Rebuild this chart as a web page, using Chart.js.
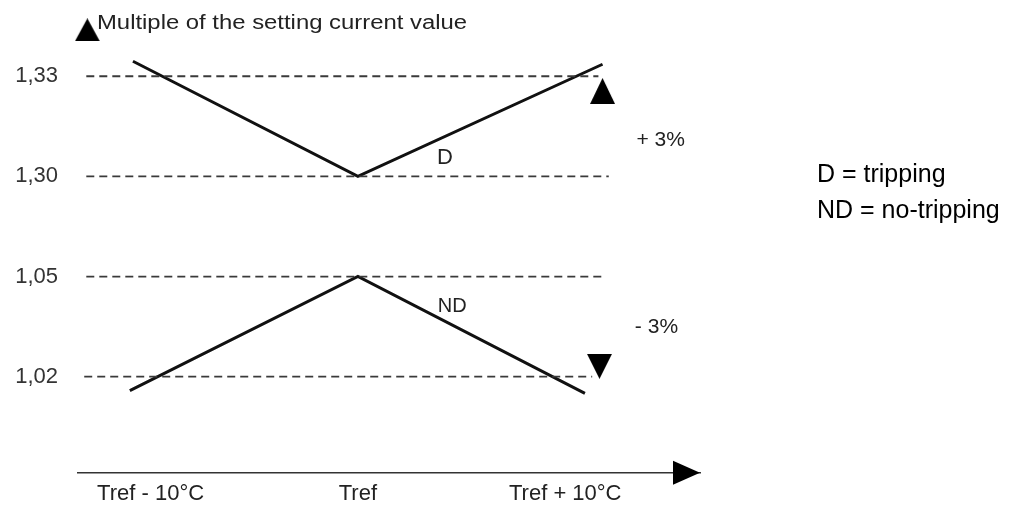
<!DOCTYPE html>
<html>
<head>
<meta charset="utf-8">
<script src="https://cdn.jsdelivr.net/npm/chart.js@4"></script>
<style>
  html, body { margin: 0; padding: 0; background: #fff; }
</style>
</head>
<body>
<canvas id="chart" width="1014" height="506"></canvas>
<script>
// x in degrees relative to Tref, y as multiple of the setting current
var xTicks = [-10, 0, 10];
var xLabels = ["Tref - 10°C", "Tref", "Tref + 10°C"];
var yLevels = [1.02, 1.05, 1.30, 1.33];
var yLabels = ["1,02", "1,05", "1,30", "1,33"];
var levelStart = [-13.2, -13.1, -13.1, -13.1];
var levelEnd = [11.3, 11.9, 12.1, 11.6];

var tripX = [-10.85, 0, 11.8];
var tripY = [1.3345, 1.300, 1.3336];
var noTripX = [-11.0, 0, 10.95];
var noTripY = [1.0158, 1.050, 1.0150];

// the two tolerance arrows and the arrow head of the y axis
var markX = [11.8, 11.65, -13.05];
var markY = [1.3256, 1.0231, 1.3439];

Chart.defaults.font.family = 'Arial, "Liberation Sans", sans-serif';

// broken y axis: every step between two levels gets the same height
function pos(v) {
  var i = 0;
  while (i < yLevels.length - 2 && v > yLevels[i + 1]) i++;
  return i + (v - yLevels[i]) / (yLevels[i + 1] - yLevels[i]);
}

function points(xs, ys) {
  var out = [];
  for (var i = 0; i < xs.length; i++) out.push({ x: xs[i], y: pos(ys[i]) });
  return out;
}

function triangle(w, h, up) {
  var c = document.createElement("canvas");
  c.width = w;
  c.height = h;
  var g = c.getContext("2d");
  g.fillStyle = "#000";
  g.beginPath();
  if (up) {
    g.moveTo(w / 2, 0); g.lineTo(w, h); g.lineTo(0, h);
  } else {
    g.moveTo(0, 0); g.lineTo(w, 0); g.lineTo(w / 2, h);
  }
  g.closePath();
  g.fill();
  return c;
}

var datasets = [];
for (var i = 0; i < yLevels.length; i++) {
  datasets.push({
    data: points([levelStart[i], levelEnd[i]], [yLevels[i], yLevels[i]]),
    showLine: true,
    borderColor: "#3a3a3a",
    borderWidth: 1.8,
    borderDash: [8, 5],
    pointRadius: 0,
  });
}
datasets.push({
  label: "D",
  data: points(tripX, tripY),
  showLine: true,
  borderColor: "#111",
  borderWidth: 3,
  pointRadius: 0,
});
datasets.push({
  label: "ND",
  data: points(noTripX, noTripY),
  showLine: true,
  borderColor: "#111",
  borderWidth: 3,
  pointRadius: 0,
});
datasets.push({
  data: points(markX, markY),
  pointStyle: [triangle(25, 26, true), triangle(25, 25, false), triangle(25, 23, true)],
  pointRadius: 12,
  clip: false,
});

var notes = {
  id: "notes",
  afterDraw(chart) {
    var ctx = chart.ctx;
    var x = chart.scales.x, y = chart.scales.y;
    var area = chart.chartArea;
    ctx.save();
    // x axis arrow head
    ctx.fillStyle = "#000";
    ctx.beginPath();
    ctx.moveTo(area.right - 27, area.bottom - 12);
    ctx.lineTo(area.right, area.bottom);
    ctx.lineTo(area.right - 27, area.bottom + 12);
    ctx.closePath();
    ctx.fill();

    ctx.fillStyle = "#222";
    ctx.textAlign = "center";
    ctx.textBaseline = "middle";
    ctx.font = '22px Arial, "Liberation Sans", sans-serif';
    ctx.fillText("D", x.getPixelForValue(4.2), y.getPixelForValue(pos(1.3054)));
    ctx.font = '20px Arial, "Liberation Sans", sans-serif';
    ctx.fillText("ND", x.getPixelForValue(4.55), y.getPixelForValue(pos(1.0411)));
    ctx.font = '21px Arial, "Liberation Sans", sans-serif';
    ctx.fillText("+ 3%", x.getPixelForValue(14.6), y.getPixelForValue(pos(1.3108)));
    ctx.fillText("- 3%", x.getPixelForValue(14.4), y.getPixelForValue(pos(1.0349)));

    // y axis title, stretched like the scanned original
    ctx.textAlign = "left";
    ctx.textBaseline = "alphabetic";
    ctx.font = '20px Arial, "Liberation Sans", sans-serif';
    var title = "Multiple of the setting current value";
    var sx = 370 / ctx.measureText(title).width;
    ctx.save();
    ctx.translate(97, 29);
    ctx.scale(sx, 1);
    ctx.fillText(title, 0, 0);
    ctx.restore();

    // legend
    ctx.fillStyle = "#000";
    ctx.font = '25px Arial, "Liberation Sans", sans-serif';
    ctx.fillText("D = tripping", 817, 182);
    ctx.fillText("ND = no-tripping", 817, 218);
    ctx.restore();
  },
};

new Chart(document.getElementById("chart"), {
  type: "scatter",
  data: { datasets: datasets },
  options: {
    responsive: false,
    animation: false,
    layout: { padding: { top: 0, left: 0, bottom: 0, right: 314 } },
    plugins: { legend: { display: false }, tooltip: { enabled: false } },
    elements: { line: { tension: 0 } },
    scales: {
      x: {
        type: "linear",
        min: -13.5,
        max: 16.5,
        afterFit: function (s) { s.height = 28; },
        afterBuildTicks: function (s) {
          s.ticks = xTicks.map(function (v) { return { value: v }; });
        },
        ticks: {
          padding: 8,
          color: "#222",
          font: { size: 22 },
          callback: function (v, i) { return xLabels[i]; },
        },
        grid: { display: false, drawTicks: false },
        border: { display: true, color: "#333", width: 1.5 },
      },
      y: {
        type: "linear",
        min: -0.96,
        max: 3.43,
        afterFit: function (s) { s.width = 78; },
        afterBuildTicks: function (s) {
          s.ticks = yLevels.map(function (v, i) { return { value: i }; });
        },
        ticks: {
          padding: 20,
          color: "#333",
          font: { size: 22 },
          callback: function (v, i) { return yLabels[i]; },
        },
        grid: { display: false, drawTicks: false },
        border: { display: false },
      },
    },
  },
  plugins: [notes],
});
</script>
</body>
</html>
